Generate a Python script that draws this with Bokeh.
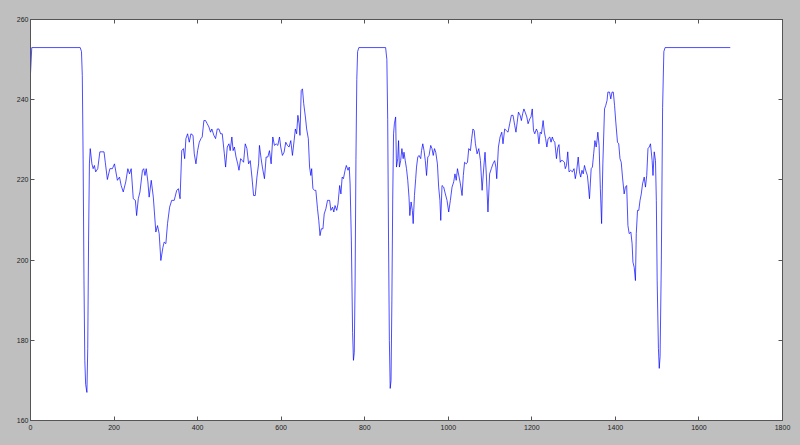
from bokeh.plotting import figure
from bokeh.models import LinearAxis, Range1d, FixedTicker, CustomJSTickFormatter
from bokeh.embed import file_html
from bokeh.resources import INLINE

# ---- data ----
x_vals = [0, 3, 119, 122, 124, 126, 128, 130, 132, 135, 137, 139, 141, 143, 147, 150, 153, 156, 161, 166,
          176, 179, 184, 190, 196, 201, 208, 213, 217, 222, 228, 233, 237, 241, 246, 251, 254, 258, 262,
          268, 271, 274, 277, 281, 284, 289, 294, 300, 304, 308, 312, 317, 320, 324, 328, 333, 338, 344,
          350, 354, 358, 362, 366, 369, 372, 376, 380, 384, 389, 392, 396, 400, 404, 408, 411, 415, 419,
          423, 427, 431, 434, 439, 443, 447, 451, 455, 459, 464, 467, 471, 475, 478, 482, 485, 488, 492,
          496, 499, 503, 507, 510, 514, 518, 522, 526, 530, 534, 538, 542, 546, 548, 552, 555, 560, 564,
          568, 572, 576, 580, 584, 588, 592, 596, 599, 603, 607, 611, 615, 619, 623, 627, 631, 634, 637,
          640, 643, 645, 648, 651, 654, 658, 661, 665, 668, 671, 673, 676, 680, 683, 687, 690, 693, 696,
          700, 703, 707, 711, 716, 719, 723, 726, 729, 733, 736, 740, 743, 746, 749, 753, 756, 760, 763,
          765, 768, 771, 773, 775, 777, 779, 781, 783, 786, 850, 853, 855, 857, 859, 861, 863, 865, 867,
          869, 871, 874, 876, 879, 881, 883, 886, 889, 892, 894, 897, 900, 903, 906, 908, 911, 914, 916,
          919, 922, 924, 927, 930, 934, 936, 939, 942, 945, 948, 951, 954, 958, 961, 964, 967, 970, 974,
          977, 980, 982, 985, 989, 993, 997, 1001, 1005, 1009, 1013, 1016, 1019, 1022, 1026, 1029, 1033,
          1036, 1039, 1043, 1046, 1049, 1053, 1056, 1059, 1062, 1065, 1069, 1073, 1077, 1081, 1085, 1088,
          1091, 1095, 1099, 1103, 1107, 1111, 1114, 1116, 1120, 1124, 1128, 1131, 1135, 1139, 1143, 1147,
          1151, 1155, 1159, 1162, 1165, 1168, 1172, 1175, 1178, 1181, 1184, 1188, 1191, 1195, 1198, 1201,
          1204, 1207, 1211, 1214, 1217, 1220, 1223, 1227, 1230, 1233, 1236, 1239, 1243, 1246, 1249, 1252,
          1255, 1259, 1262, 1265, 1268, 1270, 1274, 1278, 1280, 1283, 1286, 1289, 1293, 1297, 1301, 1304,
          1307, 1311, 1314, 1317, 1320, 1323, 1326, 1330, 1333, 1335, 1338, 1342, 1345, 1348, 1351, 1354,
          1356, 1358, 1361, 1364, 1367, 1370, 1374, 1377, 1380, 1382, 1386, 1389, 1392, 1395, 1398, 1401,
          1405, 1408, 1411, 1414, 1417, 1421, 1424, 1427, 1430, 1433, 1437, 1440, 1442, 1445, 1448, 1450,
          1453, 1456, 1459, 1462, 1465, 1469, 1472, 1475, 1478, 1481, 1484, 1488, 1490, 1493, 1496, 1498,
          1500, 1503, 1505, 1507, 1510, 1513, 1516, 1519, 1675]
y_vals = [246.5, 253, 253, 252, 246, 225, 195, 175, 169, 167, 178, 205, 224, 227.8, 224, 222.8, 223.6, 222, 222.8, 227,
          227, 224.4, 220.1, 222.8, 222.8, 224, 219.9, 220.7, 218.6, 217, 219.5, 222.8, 221.5, 222.8, 215.3, 214.9, 211.1, 215.3, 217,
          222.4, 222.8, 221.1, 222.8, 219.5, 215.7, 219.9, 215.7, 207, 208.6, 206.6, 199.9, 203.2, 204.5, 204.1, 209.1, 213.2, 214.9, 214.9,
          217.4, 217.8, 215.3, 227.3, 227.8, 225.3, 230.3, 231.5, 229.4, 231.5, 231.1, 226.5, 224, 227.3, 229.4, 230.3, 230.7, 234.8, 234.8,
          234, 233.2, 231.9, 232.7, 231.1, 230.3, 232.7, 232.7, 231.5, 231.5, 226.5, 223.2, 228.2, 229, 227.3, 230.7, 227.3, 228.2, 225.7,
          224, 222.4, 225.3, 224.8, 224.4, 229, 227.8, 224, 224.8, 220.7, 216.1, 216.1, 220.7, 224, 228.6, 225.3, 223.2, 220.3, 225.7,
          225.7, 227.3, 224, 230.7, 228.6, 229, 228.6, 230.7, 228.2, 226.1, 226.9, 229.4, 228.6, 228.2, 229.8, 226.1, 229.8, 232.7, 231.5,
          236.1, 234, 231.1, 242.3, 242.7, 239, 235.7, 232.7, 230.3, 223.2, 221.1, 222.8, 217.8, 217.4, 217.4, 212.8, 209.9, 206.1, 207.8,
          207.8, 211.5, 212.8, 214.9, 214.9, 212.4, 213.2, 212, 213.6, 212.4, 214, 218.6, 216.5, 220.7, 220.3, 222.4, 223.6, 222.4, 223.2,
          219, 205, 182, 175, 177, 195, 225, 245, 252, 253, 253, 250, 235, 205, 180, 168, 170, 190, 215,
          231.5, 234, 235.7, 223.2, 225.3, 229.8, 223.2, 224.8, 227.8, 225.3, 226.9, 224.8, 222.8, 219.9, 215.7, 211.1, 214.5, 212.4, 209.1,
          216.1, 220.3, 223.2, 225.7, 226.1, 225.3, 227.3, 229, 227.3, 224.8, 221.1, 225.7, 226.1, 228.6, 227.8, 226.1, 227.8, 226.9, 224,
          218.2, 214.9, 209.9, 218.6, 218.2, 216.5, 214.9, 212, 214.9, 218.2, 219.5, 221.5, 219.9, 222.8, 220.7, 219, 216.1,
          221.1, 224.4, 224, 224.4, 227.8, 227.3, 230.3, 232.7, 232.3, 229, 226.5, 227.8, 224.8, 217.4, 223.2, 226.9,
          221.5, 212, 221.5, 222.8, 224, 224.8, 223.2, 220.3, 228.2, 230.7, 231.9, 229, 232.7, 232.3, 231.9, 234,
          236.1, 236.1, 233.6, 231.9, 234.4, 236.9, 236.1, 234.8, 236.5, 237.7, 236.9, 235.7, 234, 235.2, 235.7, 237.7,
          232.3, 231.5, 232.7, 231.9, 229, 231.9, 231.5, 234.8, 231.9, 230.3, 228.2, 230.3, 230.7, 229.4, 230.7, 229.8,
          229.4, 225.3, 228, 228.8, 224.4, 224.8, 224.8, 224.4, 222.8, 223.6, 227, 222, 222.4, 222, 222.8, 220.3,
          222, 225.7, 222, 220.7, 222.4, 221.5, 223.6, 222, 221.1, 219, 215.3, 222.8, 223.2, 226.5, 229.8, 228.2,
          229.8, 231.9, 228.6, 217.8, 209.1, 224, 237.7, 238.6, 239.8, 241.9, 241.9, 240.2, 241.9, 241.9, 238.6, 234.4,
          229.4, 229, 225.3, 224.4, 220.7, 216.5, 218.2, 218.6, 208.6, 206.6, 207, 204.1, 199.5, 198.2, 194.9, 206.6,
          212.4, 212.4, 214.9, 216.5, 219, 220.7, 218.2, 221.1, 227.8, 228.2, 229, 224.8, 221.1, 227, 224.8, 214.9,
          195, 178, 173, 176, 200, 238, 252, 253, 253]

x_ticks = [0, 200, 400, 600, 800, 1000, 1200, 1400, 1600, 1800]
y_ticks = [160, 180, 200, 220, 240, 260]

BG = "#bfbfbf"
EDGE = "#555555"
FONT = "Liberation Sans"

p = figure(width=800, height=445,
           x_range=Range1d(0, 1800), y_range=Range1d(160, 260),
           output_backend="svg", toolbar_location=None,
           min_border_left=30, min_border_right=18,
           min_border_top=19, min_border_bottom=25,
           background_fill_color="white", border_fill_color=BG,
           outline_line_color=EDGE, outline_line_width=1)

p.line(x_vals, y_vals, line_color="#0000ff", line_width=0.7)

p.xgrid.visible = False
p.ygrid.visible = False

def style(ax, ticks, labels=True, standoff=3):
    ax.ticker = FixedTicker(ticks=ticks)
    ax.major_tick_in = 4
    ax.major_tick_out = 0
    ax.minor_tick_in = 0
    ax.minor_tick_out = 0
    ax.major_tick_line_color = EDGE
    ax.axis_line_color = EDGE
    ax.major_label_text_font = FONT
    ax.major_label_text_font_size = "7px"
    ax.major_label_text_color = "#222222"
    ax.major_label_standoff = standoff
    if not labels:
        ax.formatter = CustomJSTickFormatter(code="return '';")
        ax.major_label_standoff = 0

style(p.xaxis[0], x_ticks, standoff=4)
style(p.yaxis[0], y_ticks, standoff=2)

top = LinearAxis()
style(top, x_ticks, labels=False)
p.add_layout(top, "above")
right = LinearAxis()
style(right, y_ticks, labels=False)
p.add_layout(right, "right")

html = file_html(p, INLINE)
html = html.replace("</head>", "<style>html,body{background:%s;margin:0;padding:0;overflow:hidden;}</style></head>" % BG, 1)
open("out.html", "w").write(html)
